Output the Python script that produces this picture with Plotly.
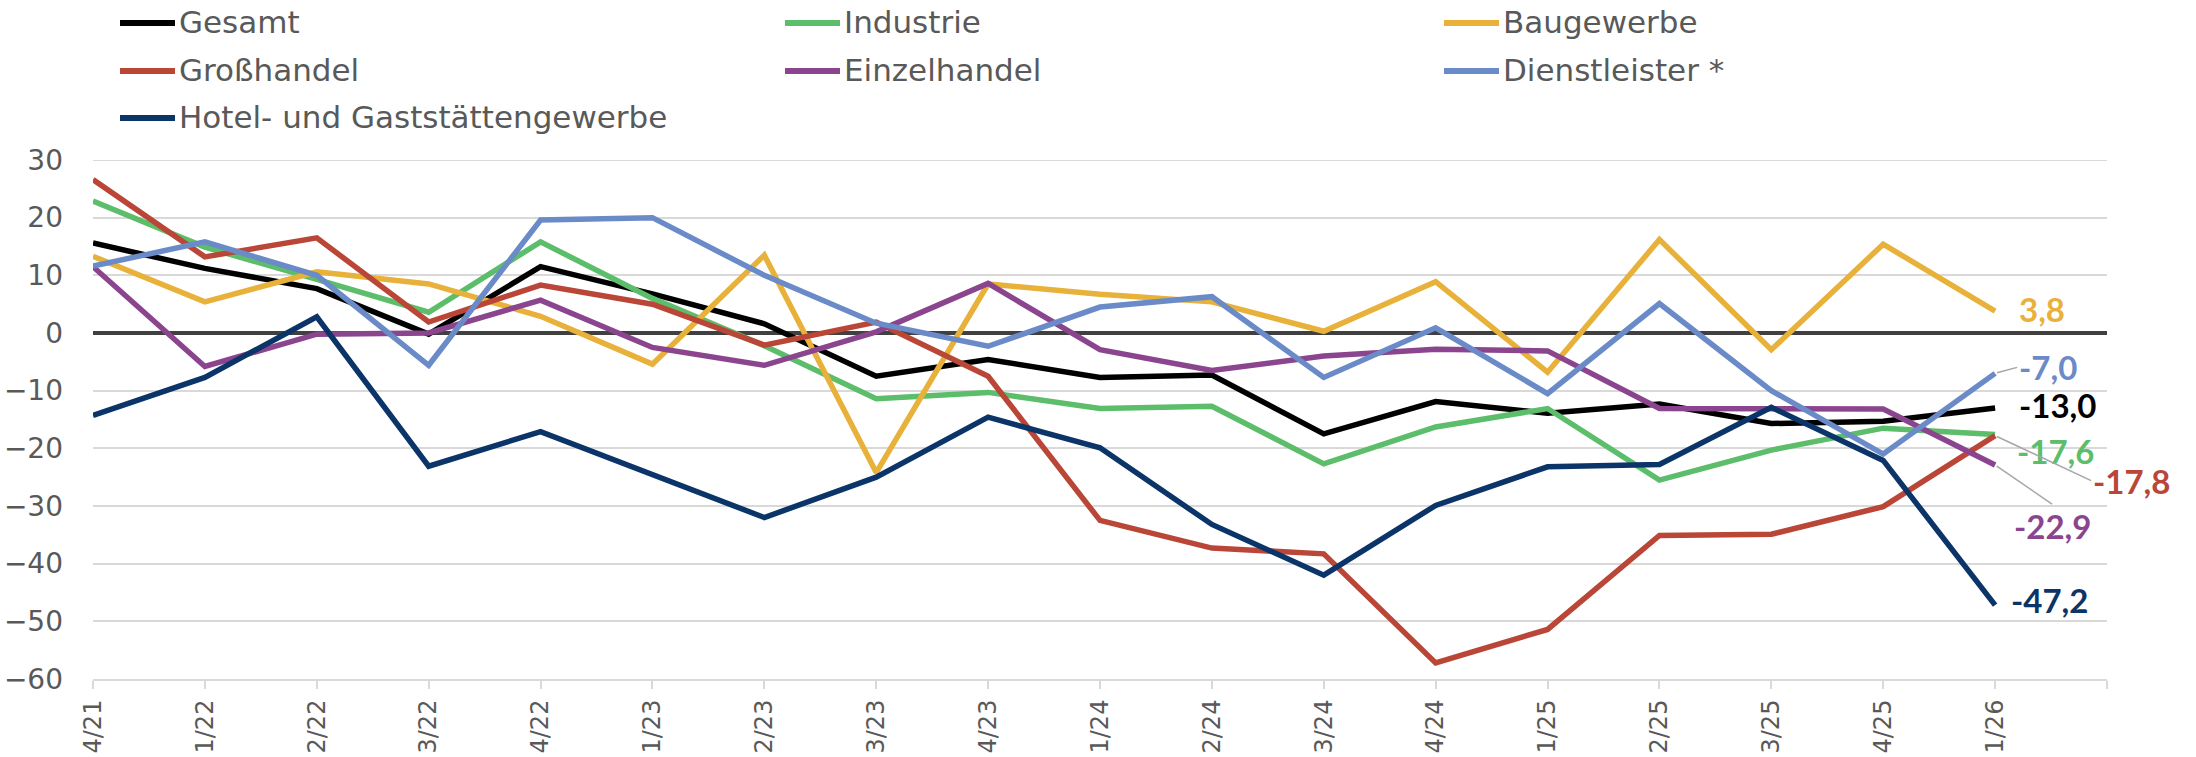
import plotly.graph_objects as go

# Quarter labels (Quartal/Jahr)
quarters = ["4/21", "1/22", "2/22", "3/22", "4/22", "1/23", "2/23", "3/23", "4/23",
            "1/24", "2/24", "3/24", "4/24", "1/25", "2/25", "3/25", "4/25", "1/26"]

gesamt = [15.6, 11.2, 7.7, -0.2, 11.5, 6.8, 1.6, -7.5, -4.6,
          -7.7, -7.3, -17.5, -11.9, -13.9, -12.3, -15.7, -15.3, -13.0]
industrie = [22.9, 14.9, 9.3, 3.6, 15.8, 6.0, -2.2, -11.4, -10.3,
             -13.1, -12.7, -22.7, -16.3, -13.1, -25.5, -20.3, -16.5, -17.6]
baugewerbe = [13.3, 5.4, 10.6, 8.5, 2.9, -5.4, 13.5, -24.2, 8.5,
              6.7, 5.4, 0.3, 8.9, -6.8, 16.2, -2.9, 15.4, 3.8]
grosshandel = [26.6, 13.2, 16.5, 1.9, 8.3, 5.0, -2.1, 1.9, -7.5,
               -32.5, -37.3, -38.3, -57.2, -51.4, -35.1, -34.9, -30.1, -17.8]
einzelhandel = [11.5, -5.8, -0.2, 0.0, 5.7, -2.5, -5.6, 0.2, 8.6,
                -2.9, -6.5, -4.0, -2.8, -3.1, -13.1, -13.1, -13.2, -22.9]
dienstleister = [11.6, 15.8, 10.0, -5.6, 19.6, 20.0, 10.0, 1.7, -2.3,
                 4.5, 6.3, -7.7, 0.9, -10.5, 5.1, -10.0, -21.0, -7.0]
hotel = [-14.3, -7.7, 2.8, -23.1, -17.1, -24.6, -32.0, -25.0, -14.6,
         -19.9, -33.2, -42.0, -29.9, -23.2, -22.8, -12.9, -22.1, -47.2]

names = ["Gesamt", "Industrie", "Baugewerbe", "Großhandel", "Einzelhandel",
         "Dienstleister *", "Hotel- und Gaststättengewerbe"]
series = [gesamt, industrie, baugewerbe, grosshandel, einzelhandel, dienstleister, hotel]
colors = ["#000000", "#5cbd6a", "#e8b13a", "#b94636", "#8a458e", "#6a8bc7", "#0b3468"]

y_ticks = [30, 20, 10, 0, -10, -20, -30, -40, -50, -60]

TEXT_FONT = "DejaVu Sans"
LABEL_FONT = "Lato"
GREY = "#595959"
GRID = "#d9d9d9"

W, H = 2196, 757
L, R, T, B = 93, 89, 160, 78
PW, PH = W - L - R, H - T - B

fig = go.Figure()
x_idx = list(range(len(quarters)))
for name, vals, col in zip(names, series, colors):
    fig.add_trace(go.Scatter(x=x_idx, y=vals, mode="lines", name=name,
                             line=dict(color=col, width=5.5), showlegend=False,
                             hoverinfo="x+y+name"))


def px_to_paper_x(px):
    return (px - L) / PW


def px_to_paper_y(py):
    return (H - B - py) / PH


# Legend: three columns, entries laid out row by row
col_x = [120, 785, 1444]
row_y = [23, 71, 118]
shapes = []
annotations = []
for i, (name, col) in enumerate(zip(names, colors)):
    r, c = divmod(i, 3)
    x0 = col_x[c]
    yy = px_to_paper_y(row_y[r])
    shapes.append(dict(type="line", xref="paper", yref="paper",
                       x0=px_to_paper_x(x0), x1=px_to_paper_x(x0 + 55), y0=yy, y1=yy,
                       line=dict(color=col, width=6)))
    annotations.append(dict(xref="paper", yref="paper", x=px_to_paper_x(x0 + 57), y=yy,
                            text=name, showarrow=False, xanchor="left", yanchor="middle",
                            yshift=1,
                            font=dict(family=TEXT_FONT, size=31, color=GREY)))

# Top gridline at the upper end of the value range
shapes.append(dict(type="line", xref="paper", yref="y", x0=0, x1=1,
                   y0=y_ticks[0], y1=y_ticks[0], layer="below",
                   line=dict(color=GRID, width=2)))

# End-of-line value labels
last = len(quarters) - 1


def fmt(v):
    return f"{v:.1f}".replace(".", ",")


label_font = dict(family=LABEL_FONT, size=33, weight="bold")
end_labels = [
    # series index, xshift, yshift, arrow (ax, ay, xanchor, yanchor) or None
    (2, 22, 2, None),
    (5, None, None, (22, -6, "left", "middle")),
    (0, 22, 3, None),
    (1, 20, -17, None),
    (3, None, None, (96, 45, "left", "middle")),
    (4, None, None, (57, 39, "center", "top")),
    (6, 14, 5, None),
]
for idx, xs, ys, arrow in end_labels:
    v = series[idx][last]
    f = dict(label_font, color=colors[idx])
    if arrow is None:
        annotations.append(dict(x=last, y=v, xref="x", yref="y", text=fmt(v),
                                showarrow=False, xanchor="left", yanchor="middle",
                                xshift=xs, yshift=ys, font=f))
    else:
        ax, ay, xa, ya = arrow
        annotations.append(dict(x=last, y=v, xref="x", yref="y", text=fmt(v),
                                showarrow=True, arrowhead=0, arrowwidth=1.5,
                                arrowcolor="#a6a6a6", ax=ax, ay=ay,
                                xanchor=xa, yanchor=ya, standoff=2, font=f))

fig.update_layout(
    width=W, height=H, autosize=False,
    margin=dict(l=L, r=R, t=T, b=B, pad=0, autoexpand=False),
    paper_bgcolor="white", plot_bgcolor="white",
    font=dict(family=TEXT_FONT, color=GREY),
    shapes=shapes, annotations=annotations,
    showlegend=False,
)
fig.update_xaxes(
    range=[0, len(quarters)], automargin=False,
    tickmode="array", tickvals=list(range(len(quarters) + 1)), ticktext=quarters + [""],
    tickangle=-90, tickfont=dict(family=TEXT_FONT, size=24, color=GREY),
    showgrid=False, zeroline=False,
    showline=True, linecolor=GRID, linewidth=2,
    ticks="outside", ticklen=8, tickwidth=2, tickcolor=GRID,
    ticklabelstandoff=1,
)
fig.update_yaxes(
    range=[-60, 30], automargin=False, tickmode="array", tickvals=y_ticks,
    tickfont=dict(family=TEXT_FONT, size=28, color=GREY),
    showgrid=True, gridcolor=GRID, gridwidth=2,
    zeroline=True, zerolinecolor="#404040", zerolinewidth=4,
    showline=False, ticks="", ticklabelstandoff=29,
)

fig.write_html("out.html")
